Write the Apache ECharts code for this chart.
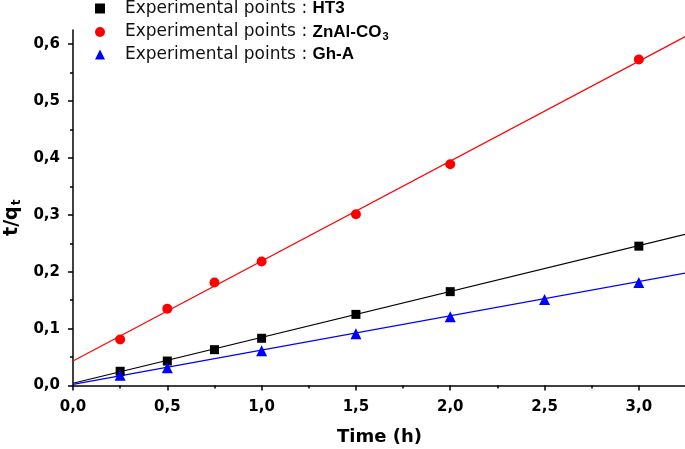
<!DOCTYPE html>
<html><head><meta charset="utf-8">
<script src="https://cdn.jsdelivr.net/npm/echarts@6/dist/echarts.min.js"></script>
<style>html,body{margin:0;padding:0;background:#fff}#c{width:685px;height:449px}</style>
</head><body><div id="c"></div>
<script>
const timeHT3 = [0.25, 0.5, 0.75, 1.0, 1.5, 2.0, 3.0];
const valHT3 = [0.025, 0.043, 0.063, 0.083, 0.125, 0.165, 0.245];
const timeZn = [0.25, 0.5, 0.75, 1.0, 1.5, 2.0, 3.0];
const valZn = [0.081, 0.135, 0.181, 0.218, 0.301, 0.389, 0.573];
const timeGh = [0.25, 0.5, 1.0, 1.5, 2.0, 2.5, 3.0];
const valGh = [0.018, 0.031, 0.061, 0.091, 0.121, 0.151, 0.181];
// fitted lines: endpoints
const fitX = [0, 3.25];
const fitHT3 = [0.004, 0.266];
const fitZn = [0.043, 0.614];
const fitGh = [0.002, 0.198];
const xTicks = [0, 0.5, 1.0, 1.5, 2.0, 2.5, 3.0];
const xMinor = [0.25, 0.75, 1.25, 1.75, 2.25, 2.75, 3.25];
const yTicks = [0, 0.1, 0.2, 0.3, 0.4, 0.5, 0.6];
const yMinor = [0.05, 0.15, 0.25, 0.35, 0.45, 0.55];

const zip = (a, b) => a.map((v, i) => [v, b[i]]);
const fmt = v => v.toFixed(1).replace('.', ',');
const FONT = '"Liberation Sans", Arial, sans-serif';
const DJ = '"DejaVu Sans", sans-serif';

const chart = echarts.init(document.getElementById('c'));
const axisCommon = {
  min: 0,
  axisLine: { show: true, lineStyle: { color: '#000', width: 1.5 } },
  splitLine: { show: false },
};
const tickLabel = { fontFamily: DJ, fontSize: 15, fontWeight: 'bold', color: '#000' };
chart.setOption({
  animation: false,
  grid: { left: 73, right: -1, top: 30, bottom: 63.5, containLabel: false, outerBoundsMode: 'none' },
  legend: {
    left: 95, top: 0, orient: 'vertical', padding: 0,
    itemWidth: 10, itemHeight: 10, itemGap: 4,
    data: ['HT3', 'ZnAl', 'GhA'],
    formatter: function (n) {
      if (n === 'HT3') return '{n|Experimental points : }{b|HT3}';
      if (n === 'ZnAl') return '{n|Experimental points : }{b|ZnAl-CO}{s|3}';
      return '{n|Experimental points : }{b|Gh-A}';
    },
    textStyle: {
      fontFamily: DJ, fontSize: 17, color: '#111', padding: [0, 0, 0, 15],
      rich: {
        n: { fontFamily: DJ, fontSize: 17, color: '#111', lineHeight: 20 },
        b: { fontFamily: FONT, fontSize: 17, fontWeight: 'bold', color: '#000', lineHeight: 20 },
        s: { fontFamily: FONT, fontSize: 11, fontWeight: 'bold', color: '#000', lineHeight: 20, verticalAlign: 'bottom', padding: [10, 0, 0, 1] }
      }
    }
  },
  xAxis: [Object.assign({}, axisCommon, {
    type: 'value', max: 3.25, interval: 0.5,
    name: 'Time (h)', nameLocation: 'middle', nameGap: 43,
    nameTextStyle: { fontFamily: DJ, fontSize: 18, fontWeight: 'bold', color: '#000' },
    axisTick: { show: true, inside: false, length: 5, customValues: xTicks, lineStyle: { color: '#000', width: 1.5 } },
    axisLabel: Object.assign({ customValues: xTicks, formatter: fmt, margin: 14 }, tickLabel),
  }), {
    type: 'value', min: 0, max: 3.25, position: 'bottom',
    axisLine: { show: false }, splitLine: { show: false }, axisLabel: { show: false },
    axisTick: { show: true, inside: false, length: 3, customValues: xMinor, lineStyle: { color: '#000', width: 1.5 } },
  }],
  yAxis: [Object.assign({}, axisCommon, {
    type: 'value', max: 0.625, interval: 0.1,
    name: '{a|t/q}{s|t}', nameLocation: 'middle', nameGap: 49, nameRotate: 90,
    nameTextStyle: {
      fontFamily: DJ, fontSize: 19, fontWeight: 'bold', color: '#000', padding: [0, 20, 0, 0],
      rich: {
        a: { fontFamily: DJ, fontSize: 19, fontWeight: 'bold', color: '#000' },
        s: { fontFamily: DJ, fontSize: 12, fontWeight: 'bold', color: '#000', verticalAlign: 'bottom', padding: [9, 0, 0, 1] }
      }
    },
    axisTick: { show: true, inside: false, length: 5, customValues: yTicks, lineStyle: { color: '#000', width: 1.5 } },
    axisLabel: Object.assign({ customValues: yTicks, formatter: fmt, margin: 13 }, tickLabel),
  }), {
    type: 'value', min: 0, max: 0.625, position: 'left',
    axisLine: { show: false }, splitLine: { show: false }, axisLabel: { show: false },
    axisTick: { show: true, inside: false, length: 3, customValues: yMinor, lineStyle: { color: '#000', width: 1.5 } },
  }],
  series: [
    { name: 'fitHT3', type: 'line', data: zip(fitX, fitHT3), symbol: 'none', lineStyle: { color: '#000', width: 1.2 }, z: 1 },
    { name: 'fitZn', type: 'line', data: zip(fitX, fitZn), symbol: 'none', lineStyle: { color: '#ff0000', width: 1.2 }, z: 1 },
    { name: 'fitGh', type: 'line', data: zip(fitX, fitGh), symbol: 'none', lineStyle: { color: '#0000ff', width: 1.2 }, z: 1 },
    { name: 'HT3', type: 'scatter', data: zip(timeHT3, valHT3), symbol: 'rect', symbolSize: 9, itemStyle: { color: '#000', opacity: 1 }, z: 3 },
    { name: 'ZnAl', type: 'scatter', data: zip(timeZn, valZn), symbol: 'circle', symbolSize: 10, itemStyle: { color: '#ff0000', opacity: 1 }, z: 3 },
    { name: 'GhA', type: 'scatter', data: zip(timeGh, valGh), symbol: 'triangle', symbolSize: 11, itemStyle: { color: '#0000ff', opacity: 1 }, z: 3 },
  ]
});
</script></body></html>
